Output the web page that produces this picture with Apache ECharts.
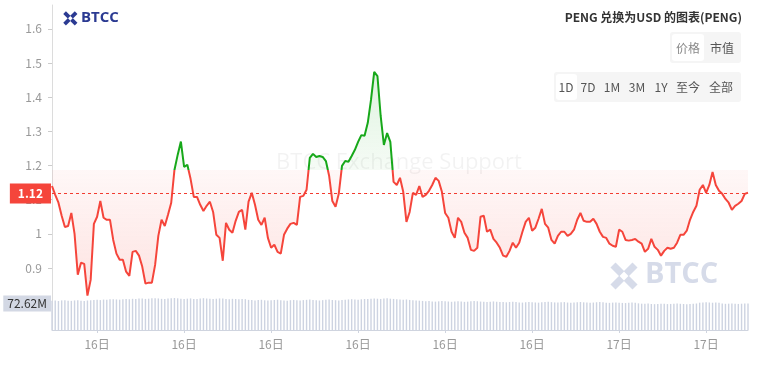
<!DOCTYPE html>
<html>
<head>
<meta charset="utf-8">
<script src="https://cdn.jsdelivr.net/npm/echarts@6/dist/echarts.min.js"></script>
<style>
    html, body { margin: 0; padding: 0; background: #fff; }
    #main { width: 762px; height: 378px; }
</style>
</head>
<body>
<div id="main"></div>
<script type="text/javascript">
    // 价格 (USD)
    var price = [
        1.140, 1.114, 1.091, 1.053, 1.020, 1.023, 1.061, 1.000, 0.880, 0.915,
        0.912, 0.819, 0.865, 1.029, 1.050, 1.096, 1.047, 1.041, 1.041, 0.982,
        0.942, 0.924, 0.924, 0.889, 0.877, 0.947, 0.950, 0.936, 0.904, 0.854,
        0.857, 0.857, 0.909, 0.994, 1.041, 1.023, 1.056, 1.091, 1.187, 1.231,
        1.270, 1.196, 1.202, 1.161, 1.108, 1.108, 1.085, 1.067, 1.082, 1.094,
        1.064, 0.997, 0.988, 0.921, 1.032, 1.012, 1.003, 1.038, 1.064, 1.070,
        1.012, 1.094, 1.120, 1.085, 1.041, 1.026, 1.047, 0.988, 0.959, 0.968,
        0.947, 0.942, 0.997, 1.015, 1.029, 1.032, 1.026, 1.108, 1.111, 1.129,
        1.222, 1.234, 1.225, 1.228, 1.225, 1.213, 1.170, 1.096, 1.079, 1.117,
        1.199, 1.213, 1.211, 1.228, 1.246, 1.269, 1.289, 1.287, 1.325, 1.392,
        1.474, 1.462, 1.345, 1.260, 1.295, 1.269, 1.152, 1.143, 1.164, 1.123,
        1.035, 1.064, 1.120, 1.114, 1.140, 1.108, 1.114, 1.126, 1.143, 1.164,
        1.155, 1.123, 1.061, 1.047, 1.006, 0.988, 1.047, 1.035, 1.003, 0.988,
        0.953, 0.950, 0.959, 1.050, 1.053, 1.006, 1.012, 0.985, 0.974, 0.959,
        0.936, 0.933, 0.950, 0.974, 0.959, 0.974, 1.006, 1.035, 1.047, 1.009,
        1.018, 1.044, 1.073, 1.029, 1.018, 0.982, 0.971, 0.994, 1.006, 1.006,
        0.994, 1.000, 1.012, 1.041, 1.061, 1.038, 1.035, 1.035, 1.044, 1.029,
        1.006, 0.991, 0.988, 0.971, 0.965, 0.962, 1.012, 1.006, 0.982, 0.980,
        0.982, 0.985, 0.977, 0.971, 0.947, 0.956, 0.985, 0.962, 0.953, 0.936,
        0.950, 0.959, 0.956, 0.959, 0.974, 0.997, 0.997, 1.009, 1.041, 1.064,
        1.082, 1.129, 1.143, 1.120, 1.143, 1.181, 1.143, 1.126, 1.117, 1.102,
        1.091, 1.070, 1.082, 1.088, 1.096, 1.117, 1.120
    ];
    // 成交量 (M)
    var volume = [
        79.8, 80.4, 79.1, 80.9, 81.3, 80.2, 79.6, 80.8, 81.5, 80.1,
        79.4, 80.6, 81.2, 82.0, 82.5, 81.7,
        83.1, 82.6, 83.8, 84.2, 83.5, 82.9, 83.7, 84.5, 84.0,
        85.2, 84.6, 86.1, 85.7, 84.9, 85.5, 86.4, 87.0, 86.2, 85.1,
        84.7, 85.9, 86.8, 87.4, 86.5, 85.3, 84.8, 85.6, 86.3, 85.0,
        84.4, 85.8, 86.9, 86.0, 85.2, 84.5, 85.4, 86.2, 85.7, 84.9,
        84.3, 85.1, 84.6, 83.9, 84.8, 84.2,
        82.3, 81.6, 80.9, 81.8, 82.5, 81.2, 80.4, 81.0, 81.9, 82.7,
        81.5, 80.8, 80.2, 81.4, 82.1, 81.3, 80.6, 81.7, 82.4, 83.0,
        82.2, 81.1, 80.5, 81.6, 82.8, 83.3, 82.0, 81.4, 80.9, 81.8,
        82.6, 83.5, 84.1, 83.4, 82.7, 83.9, 84.6, 85.0,
        85.6, 86.3, 85.4, 84.8, 85.9, 86.7, 85.5, 84.9, 84.2, 83.6,
        82.8, 83.4, 82.1, 81.5, 80.7, 80.1,
        79.4, 78.6, 79.2, 78.1, 77.5, 78.3, 79.0, 78.4, 77.8, 77.1,
        78.0, 78.7, 77.6, 76.9, 77.4, 78.2, 79.1, 78.5, 77.7, 77.0,
        76.6, 77.3, 78.0, 77.2, 76.8,
        76.2, 75.6, 76.5, 77.1, 76.3, 75.4, 74.9, 75.8, 76.6, 75.9,
        75.2, 74.7, 75.5, 76.4, 77.0, 76.1, 75.3, 74.8, 75.7, 76.2,
        75.0, 74.4, 75.1, 75.9, 76.5, 75.6, 74.9, 74.3, 75.0, 75.8,
        76.4, 75.5, 74.6, 74.1, 74.8, 75.4, 74.7, 74.0, 73.6, 74.3,
        74.9, 74.2,
        72.8, 71.9, 71.4, 72.2, 71.0, 70.6, 71.3, 72.0, 71.5, 70.8,
        71.2, 71.8, 72.3, 71.6, 71.0, 70.5, 71.1, 71.7, 72.4,
        74.6, 75.3, 75.8, 75.1, 74.5, 75.0, 74.2,
        72.1, 71.5, 71.9, 72.4, 71.7, 71.2, 71.8, 72.3, 72.62
    ];
    var yTicks = [0.9, 1, 1.1, 1.2, 1.3, 1.4, 1.5, 1.6];
    var dayLabels = ['16日', '16日', '16日', '16日', '16日', '16日', '17日', '17日'];
    var labelStart = 14, labelStep = 27;
    var lastPrice = 1.12;
    var basePrice = 1.187;
    var lastVolume = 72.62;
    var categories = price.map(function (v, i) { return i; });

    var red = '#f5453b', green = '#17a81a';
    var font = "'Noto Sans CJK SC', 'Noto Sans', sans-serif";

    // 基准价以上绿色，以下红色（线和面积都按包围盒做竖直渐变）
    var hi = Math.max.apply(null, price), lo = Math.min.apply(null, price);
    var cut = (hi - basePrice) / (hi - lo);

    function showLabel(i) {
        return i >= labelStart && (i - labelStart) % labelStep === 0;
    }

    function logo(x, y, s, color) {
        return {
            type: 'group', x: x, y: y, scaleX: s, scaleY: s, z: 0,
            children: [
                { type: 'line', shape: { x1: 1.5, y1: 1.5, x2: 12.5, y2: 12.5 }, style: { stroke: color, lineWidth: 3.6 } },
                { type: 'line', shape: { x1: 12.5, y1: 1.5, x2: 1.5, y2: 12.5 }, style: { stroke: color, lineWidth: 3.6 } },
                { type: 'polygon', shape: { points: [[7, 4.8], [9.2, 7], [7, 9.2], [4.8, 7]] }, style: { fill: '#fff' } }
            ]
        };
    }

    function btn(x, y, w, h, fill) {
        return { type: 'rect', shape: { x: x, y: y, width: w, height: h, r: 3 }, style: { fill: fill }, z: 10 };
    }
    function btnText(x, y, t, c) {
        return { type: 'text', x: x, y: y, z: 11,
            style: { text: t, fill: c, font: '12px ' + font, align: 'center', verticalAlign: 'middle' } };
    }

    var myChart = echarts.init(document.getElementById('main'));

    var option = {
        animation: false,
        textStyle: { fontFamily: font },
        grid: [
            { left: 52, right: 14, top: 5, height: 293 },
            { left: 52, right: 14, top: 298, height: 32 }
        ],
        xAxis: [
            {
                gridIndex: 0, type: 'category', data: categories, boundaryGap: false,
                show: false
            },
            {
                gridIndex: 1, type: 'category', data: categories, boundaryGap: false,
                axisLine: { lineStyle: { color: '#cfd4df' } },
                axisTick: { interval: showLabel, length: 3, lineStyle: { color: '#cfd4df' } },
                axisLabel: {
                    interval: showLabel, color: '#999', fontSize: 12, margin: 8,
                    formatter: function (val, idx) {
                        return dayLabels[Math.floor((idx - labelStart) / labelStep)] || '';
                    }
                }
            }
        ],
        yAxis: [
            {
                gridIndex: 0, type: 'value', min: 0.812, max: 1.67,
                splitLine: { show: false },
                axisLine: { show: true, lineStyle: { color: '#dcdcdc' } },
                axisTick: { show: true, length: 4, customValues: yTicks, lineStyle: { color: '#ccc' } },
                axisLabel: { customValues: yTicks, color: '#999', fontSize: 12, margin: 10 }
            },
            {
                gridIndex: 1, type: 'value', min: 0, max: 'dataMax',
                splitLine: { show: false },
                axisLine: { show: true, lineStyle: { color: '#dcdcdc' } },
                axisTick: { show: false },
                axisLabel: { show: false }
            }
        ],
        series: [
            {
                name: 'PENG',
                type: 'line',
                xAxisIndex: 0, yAxisIndex: 0,
                data: price,
                symbol: 'none',
                itemStyle: { color: red },
                lineStyle: {
                    width: 2,
                    color: new echarts.graphic.LinearGradient(0, 0, 0, 1, [
                        { offset: 0, color: green },
                        { offset: cut, color: green },
                        { offset: cut, color: red },
                        { offset: 1, color: red }
                    ])
                },
                areaStyle: {
                    origin: basePrice,
                    color: new echarts.graphic.LinearGradient(0, 0, 0, 1, [
                        { offset: 0, color: 'rgba(23,168,26,0.20)' },
                        { offset: cut, color: 'rgba(23,168,26,0.06)' },
                        { offset: cut, color: 'rgba(245,69,59,0.06)' },
                        { offset: 1, color: 'rgba(245,69,59,0.22)' }
                    ])
                }
            },
            {
                name: '成交量',
                type: 'bar',
                xAxisIndex: 1, yAxisIndex: 1,
                data: volume,
                barWidth: 1.4,
                itemStyle: { color: '#cdd3e1' }
            }
        ],
        graphic: [
            { type: 'text', x: 399, y: 163, z: 0,
              style: { text: 'BTCC Exchange Support', fill: 'rgba(0,0,0,0.05)', font: '22px "Open Sans", sans-serif',
                       align: 'center', verticalAlign: 'middle' } },
            logo(63, 11, 1.05, '#2b3a92'),
            { type: 'text', x: 81, y: 18, z: 1,
              style: { text: 'BTCC', fill: '#2b3a92', font: 'bold 15px "Open Sans", sans-serif', verticalAlign: 'middle' } },
            logo(610, 262, 2, '#d6dbe9'),
            { type: 'text', x: 645, y: 275, z: 0,
              style: { text: 'BTCC', fill: '#d6dbe9', font: 'bold 29px "Open Sans", sans-serif', verticalAlign: 'middle' } },
            { type: 'text', x: 742, y: 17, z: 11,
              style: { text: 'PENG 兑换为USD 的图表(PENG)', fill: '#333', font: 'bold 12px ' + font,
                       align: 'right', verticalAlign: 'middle' } },
            btn(670, 32, 71, 31, '#f5f5f5'),
            btn(672, 34, 32, 27, '#fff'),
            btnText(688, 48, '价格', '#888'),
            btnText(722, 48, '市值', '#555'),
            btn(554, 72, 187, 30, '#f5f5f5'),
            btn(556, 74, 21, 26, '#fff'),
            btnText(566, 87, '1D', '#555'),
            btnText(588, 87, '7D', '#555'),
            btnText(612, 87, '1M', '#555'),
            btnText(637, 87, '3M', '#555'),
            btnText(661, 87, '1Y', '#555'),
            btnText(688, 87, '至今', '#555'),
            btnText(721, 87, '全部', '#555')
        ]
    };

    myChart.setOption(option);

    // 当前价虚线与标签、成交量标签：按坐标轴换算位置
    var yP = Math.round(myChart.convertToPixel({ yAxisIndex: 0 }, lastPrice)) + 0.5;
    var yV = myChart.convertToPixel({ yAxisIndex: 1 }, lastVolume);
    var xa = myChart.convertToPixel({ xAxisIndex: 0 }, 0);
    var xb = myChart.convertToPixel({ xAxisIndex: 0 }, price.length - 1);
    myChart.setOption({
        graphic: [
            {
                id: 'lastLine', type: 'line', z: 50, silent: true,
                shape: { x1: xa, y1: yP, x2: xb, y2: yP },
                style: { stroke: '#f23b30', lineWidth: 1, lineDash: [3, 3] }
            },
            {
                id: 'lastPriceTag', type: 'text', z: 51, silent: true, x: xa - 1, y: yP,
                style: {
                    text: String(lastPrice), fill: '#fff', font: 'bold 12px ' + font,
                    backgroundColor: red, padding: [4, 8], align: 'right', verticalAlign: 'middle'
                }
            },
            {
                id: 'lastVolTag', type: 'text', z: 51, silent: true, x: xa - 1, y: yV,
                style: {
                    text: lastVolume + 'M', fill: '#333', font: '12px ' + font,
                    backgroundColor: '#d3d8e4', padding: [2, 4], align: 'right', verticalAlign: 'middle'
                }
            }
        ]
    });
</script>
</body>
</html>
